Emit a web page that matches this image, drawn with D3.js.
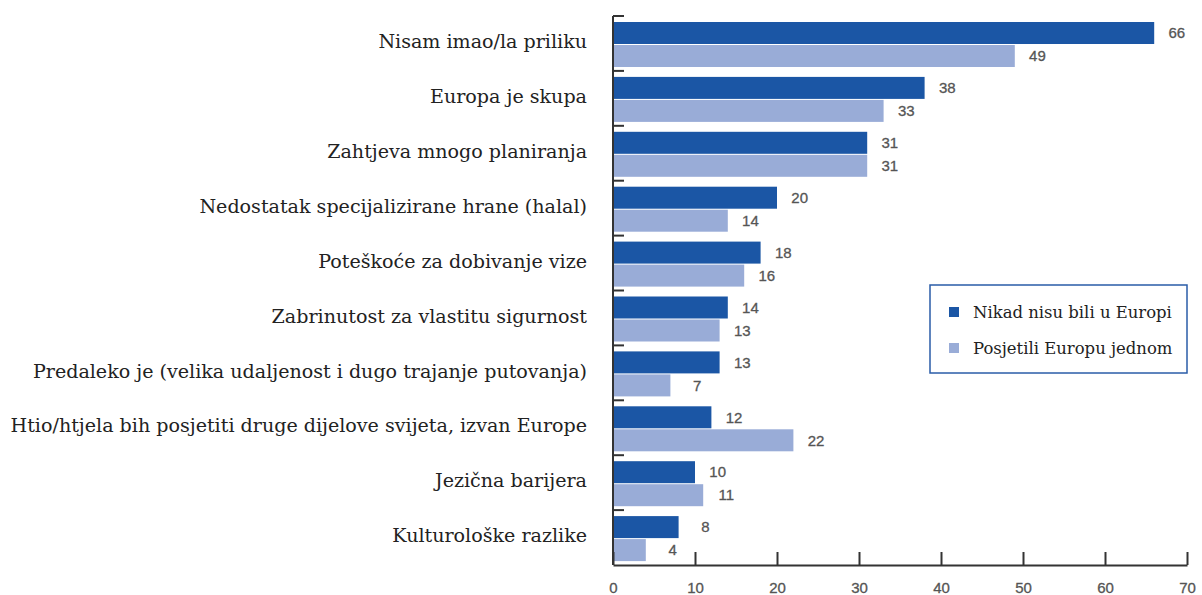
<!DOCTYPE html>
<html>
<head>
<meta charset="utf-8">
<script src="https://cdn.jsdelivr.net/npm/d3@7"></script>
<style>
  body { margin: 0; background: #fff; }
  .cat { font-family: 'DejaVu Serif', serif; font-size: 18px; fill: #222; }
  .val { font-family: 'Liberation Sans', sans-serif; font-size: 15px; fill: #555; stroke: #555; stroke-width: 0.3; }
  .tick text { font-family: 'Liberation Sans', sans-serif; font-size: 15px; fill: #555; stroke: #555; stroke-width: 0.3; }
  .leg { font-family: 'DejaVu Serif', serif; font-size: 15px; fill: #222; }
</style>
</head>
<body>
<svg id="chart"></svg>
<script>
// data
const categories = [
  'Nisam imao/la priliku',
  'Europa je skupa',
  'Zahtjeva mnogo planiranja',
  'Nedostatak specijalizirane hrane (halal)',
  'Poteškoće za dobivanje vize',
  'Zabrinutost za vlastitu sigurnost',
  'Predaleko je (velika udaljenost i dugo trajanje putovanja)',
  'Htio/htjela bih posjetiti druge dijelove svijeta, izvan Europe',
  'Jezična barijera',
  'Kulturološke razlike'
];
const neverVisited = [66, 38, 31, 20, 18, 14, 13, 12, 10, 8];
const visitedOnce = [49, 33, 31, 14, 16, 13, 7, 22, 11, 4];
const seriesNames = ['Nikad nisu bili u Europi', 'Posjetili Europu jednom'];
const xTicks = [0, 10, 20, 30, 40, 50, 60, 70];

const colors = ['#1b56a5', '#99acd7'];

const width = 1202, height = 595;
const margin = { left: 613, right: 15, top: 16, bottom: 30 };
const innerW = 1187 - margin.left;
const innerH = 565 - margin.top;

const svg = d3.select('#chart').attr('width', width).attr('height', height);
const g = svg.append('g').attr('transform', `translate(${margin.left},${margin.top})`);

const x = d3.scaleLinear().domain([0, 70]).range([0, innerW]);
const y = d3.scaleBand().domain(categories).range([0, innerH]);

// two bars per group
const barH = 22;
const topPad = 6;

const groups = g.selectAll('.grp')
  .data(categories)
  .enter().append('g')
  .attr('class', 'grp')
  .attr('transform', d => `translate(0,${y(d)})`);

[neverVisited, visitedOnce].forEach((vals, s) => {
  groups.append('rect')
    .attr('x', 0)
    .attr('y', topPad + s * (barH + 1))
    .attr('width', (d, i) => x(vals[i]))
    .attr('height', barH)
    .style('fill', colors[s]);

  groups.append('text')
    .attr('class', 'val')
    .attr('x', (d, i) => x(vals[i]) + 31)
    .attr('y', topPad + s * (barH + 1) + barH / 2)
    .attr('dy', '.35em')
    .attr('text-anchor', 'end')
    .text((d, i) => vals[i]);
});

// category labels
const catText = g.selectAll('.cat')
  .data(categories)
  .enter().append('text')
  .attr('class', 'cat')
  .attr('x', -26)
  .attr('y', d => y(d) + y.bandwidth() / 2 - 2)
  .attr('dy', '.35em')
  .attr('text-anchor', 'end')
  .text(d => d);

// fit the longest label to the width it has in the original (~577px)
const longest = d3.max(catText.nodes(), n => n.getComputedTextLength());
catText.style('font-size', `${18 * 577 / longest}px`);

// y axis line + inward ticks at group tops
g.append('line')
  .attr('x1', 0).attr('x2', 0)
  .attr('y1', 0).attr('y2', innerH)
  .style('stroke', '#333').style('stroke-width', 2);

g.selectAll('.ytick')
  .data(categories)
  .enter().append('line')
  .attr('x1', 0).attr('x2', 11)
  .attr('y1', d => y(d)).attr('y2', d => y(d))
  .style('stroke', '#333').style('stroke-width', 2);

// x axis, ticks pointing up
const xAxis = d3.axisBottom(x)
  .tickValues(xTicks)
  .tickSizeInner(-13)
  .tickSizeOuter(0)
  .tickPadding(14);

const xg = g.append('g')
  .attr('transform', `translate(0,${innerH})`)
  .call(xAxis);
xg.select('.domain').style('stroke', '#333').style('stroke-width', 2);
xg.selectAll('.tick line').style('stroke', '#333').style('stroke-width', 2);
xg.selectAll('.tick text').attr('dy', '0.9em');

// legend
const legend = svg.append('g').attr('transform', 'translate(930,285)');
legend.append('rect')
  .attr('width', 257).attr('height', 88)
  .style('fill', '#fff')
  .style('stroke', '#2a5ca8')
  .style('stroke-width', 1.5);

const legRow = legend.selectAll('.legRow')
  .data(seriesNames)
  .enter().append('g')
  .attr('transform', (d, i) => `translate(19,${27 + i * 36})`);

legRow.append('rect')
  .attr('width', 10).attr('height', 10)
  .attr('y', -5)
  .style('fill', (d, i) => colors[i]);

const legText = legRow.append('text')
  .attr('class', 'leg')
  .attr('x', 24)
  .attr('dy', '.35em')
  .text(d => d);

// first legend entry is ~199px wide in the original
const legLen = legText.nodes()[0].getComputedTextLength();
legText.style('font-size', `${15 * 199 / legLen}px`);
</script>
</body>
</html>
